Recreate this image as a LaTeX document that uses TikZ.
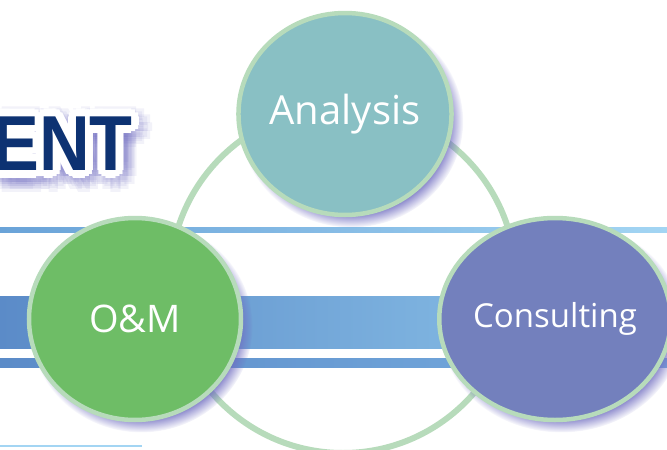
\documentclass[tikz,border=0pt]{standalone}
\usepackage{fontspec}
\setmainfont{Open Sans}
\newfontfamily\headfont[FakeStretch=0.9]{Liberation Sans}
\usetikzlibrary{shapes.geometric,shadows,fadings}

\definecolor{ringgreen}{HTML}{B7DBBB}
\definecolor{anafill}{HTML}{89C0C4}
\definecolor{omfill}{HTML}{6EBD66}
\definecolor{confill}{HTML}{7380BD}
\definecolor{glow}{HTML}{6F6CC0}
\definecolor{navy}{HTML}{0D3272}
\definecolor{lineleft}{HTML}{6AA3D8}
\definecolor{lineright}{HTML}{A3D5F3}
\definecolor{bandleft}{HTML}{5B8BC8}
\definecolor{bandright}{HTML}{8FC7EB}
\definecolor{lowright}{HTML}{78AEE0}

\begin{document}
\begin{tikzpicture}[x=1pt,y=-1pt]
		\tikzstyle{all} = [draw=ringgreen, line width=4.5pt]
		\tikzstyle{bubble} = [ellipse, all, minimum width=212pt, minimum height=202pt, inner sep=0pt, text=white,
			circular drop shadow={shadow xshift=6pt, shadow yshift=-7pt, fill=glow, opacity=0.95, shadow scale=1.05}]
		\tikzstyle{head} = [font=\headfont\bfseries\fontsize{78}{78}\selectfont, anchor=base east, inner sep=0pt]
		\useasboundingbox (0,0) rectangle (667,450);
		% stripes behind the circles
		\shade[left color=lineleft, right color=lineright] (0,227) rectangle (667,232);
		\shade[left color=bandleft, right color=bandright] (0,296) rectangle (667,348);
		\shade[left color=bandleft, right color=lowright] (0,358) rectangle (667,367);
		\draw[lineright, line width=2pt] (0,446) -- (142,446);
		% ring
		\coordinate (hub) at (343,280);
		\draw[ringgreen, line width=6pt] (hub) circle[radius=173];
		% heading
		\foreach \r in {8,12,16} {
			\foreach \a in {0,30,...,330} {
				\node[head, text=glow, text opacity=0.09, xshift={5+\r*cos(\a)}, yshift={-6+\r*sin(\a)}] (entglow\r\a) at (133,170) {ENT};
			}
		}
		\foreach \r in {4,8} {
			\foreach \a in {0,30,...,330} {
				\node[head, text=white, xshift={\r*cos(\a)}, yshift={\r*sin(\a)}] (entrim\a) at (133,170) {ENT};
			}
		}
		\node[head, text=navy] (ent) at (133,170) {ENT};
		% circles
		\node[bubble, fill=anafill] (ana) at (345,114) {\fontsize{40}{40}\selectfont Analysis};
		\node[bubble, fill=omfill] (om) at (135,319) {\fontsize{38}{38}\selectfont O\&M};
		\node[bubble, fill=confill] (con) at (555,319) {\fontsize{33}{33}\selectfont Consulting};
\end{tikzpicture}
\end{document}
